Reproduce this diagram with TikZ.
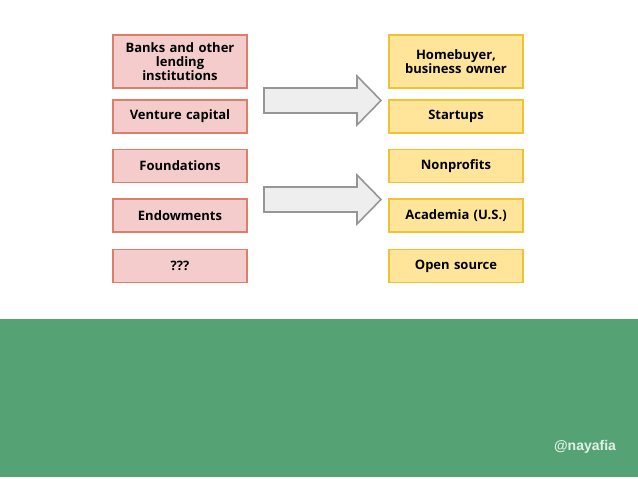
\documentclass[tikz,border=0pt]{standalone}
\usepackage{fontspec}
\setmainfont{Open Sans}
\newfontfamily\handlefont{Liberation Sans}
\usetikzlibrary{positioning}

\tikzset{
  fundbox/.style={draw=my_red_line, fill=my_red_fill, line width=1.6pt,
    text width=114pt, inner xsep=10pt, inner ysep=2pt, minimum height=33pt, align=center,
    font=\fontsize{13}{14}\selectfont\bfseries},
  userbox/.style={fundbox, draw=my_yellow_line, fill=my_yellow_fill},
  bigarrow/.style={draw=my_gray, fill=my_gray_light, line width=1.6pt, line join=miter}
}

\begin{document}
\begin{tikzpicture}[x=1pt,y=-1pt]
\definecolor{my_red_fill}{RGB}{244,204,204}
\definecolor{my_red_line}{RGB}{221,126,107}
\definecolor{my_yellow_fill}{RGB}{255,229,153}
\definecolor{my_yellow_line}{RGB}{241,194,50}
\definecolor{my_gray}{RGB}{150,150,150}
\definecolor{my_gray_light}{RGB}{238,238,238}
\definecolor{my_green}{RGB}{85,163,116}
\definecolor{my_green_text}{RGB}{225,240,230}

\useasboundingbox (0,0) rectangle (638,479);

% green band at the bottom
\fill[my_green] (0,319) rectangle (638,477);
\node[font=\handlefont\bfseries\fontsize{14}{16}\selectfont, text=my_green_text] (handle) at (585,447) {@nayafia};

% first box of each column is taller
\node[fundbox, minimum height=53pt] (src1) at (180,61.5) {Banks and other\\lending\\institutions};
\node[userbox, minimum height=53pt] (dst1) at (456,61.5) {Homebuyer,\\business owner};

\foreach \y/\A/\B [count=\xi from 2] in {116.5/Venture capital/Startups,
                                          166/Foundations/Nonprofits,
                                          215.5/Endowments/Academia (U.S.),
                                          266/???/Open source} {
    \node[fundbox] (src\xi) at (180,\y) {\A};
    \node[userbox] (dst\xi) at (456,\y) {\B};
}

% block arrows between the columns
\foreach \c in {100.5,199.5} {
    \draw[bigarrow] (264,\c-12.5) -- (357,\c-12.5) -- (357,\c-24.5) -- (381,\c)
        -- (357,\c+24.5) -- (357,\c+12.5) -- (264,\c+12.5) -- cycle;
}
\end{tikzpicture}
\end{document}
